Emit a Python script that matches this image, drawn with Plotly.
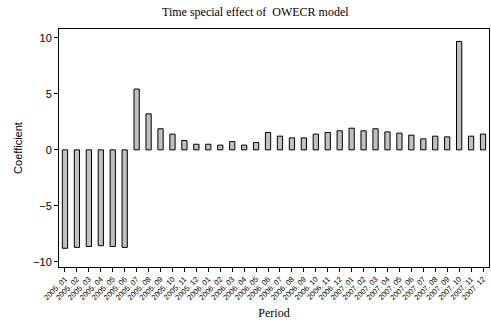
import plotly.graph_objects as go

periods = [f"{y}. {m:02d}" for y in (2005, 2006, 2007) for m in range(1, 13)]
coefficients = [
    -8.78, -8.70, -8.62, -8.55, -8.62, -8.70,
    5.42, 3.21, 1.88, 1.40, 0.83, 0.50,
    0.50, 0.42, 0.74, 0.42, 0.65, 1.55,
    1.22, 1.07, 1.07, 1.40, 1.55, 1.70,
    1.93, 1.70, 1.88, 1.60, 1.49, 1.31,
    0.98, 1.22, 1.16, 9.67, 1.22, 1.40,
]
y_ticks = [-10, -5, 0, 5, 10]

fig = go.Figure(go.Bar(
    x=periods, y=coefficients,
    marker=dict(color="#c0c0c0", line=dict(color="#000000", width=1)),
))

fig.update_layout(
    width=491, height=320,
    margin=dict(l=59, r=2, t=29, b=53, pad=0, autoexpand=False),
    paper_bgcolor="white", plot_bgcolor="white",
    bargap=0.56,
    showlegend=False,
    title=dict(text="Time special effect of  OWECR model", x=0.52, xanchor="center",
               y=0.962, yanchor="middle",
               font=dict(family="Liberation Serif", size=12, color="#000")),
    font=dict(family="Liberation Sans", color="#000"),
)
fig.update_xaxes(
    type="category", tickangle=-45,
    tickfont=dict(size=7.5, family="Liberation Sans", color="#000"),
    ticks="outside", ticklen=4, tickcolor="#000",
    showline=True, linecolor="#000", linewidth=1, mirror=True,
    showgrid=False, automargin=False,
    title=dict(text="Period", font=dict(family="Liberation Serif", size=12, color="#000"), standoff=30),
)
fig.update_yaxes(
    range=[-10.45, 10.78], tickvals=y_ticks,
    tickfont=dict(size=11, color="#000"),
    ticks="outside", ticklen=4, tickcolor="#000",
    showline=True, linecolor="#000", linewidth=1, mirror=True,
    showgrid=False, zeroline=False, automargin=False,
    title=dict(text="Coefficient", font=dict(family="Liberation Sans", size=11, color="#000"), standoff=8),
)

fig.write_html("out.html", config={"displayModeBar": False},
               post_script="document.body.style.margin='0';")
